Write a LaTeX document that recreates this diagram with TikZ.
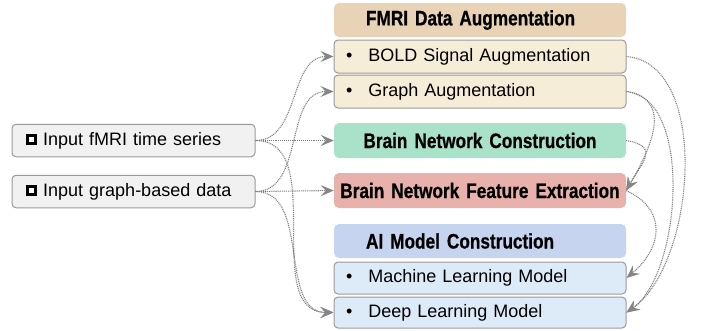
\documentclass[tikz,border=0pt]{standalone}
\usepackage{fontspec}
\setmainfont{Liberation Sans}
\newfontfamily\hdfont[FakeStretch=0.82,BoldFeatures={FakeBold=0.6}]{Liberation Sans}
\usetikzlibrary{arrows.meta}
\definecolor{bordergray}{HTML}{9A9A9A}
\definecolor{ingray}{HTML}{F1F1F1}
\definecolor{linegray}{HTML}{7E7E7E}
\definecolor{arrowgray}{HTML}{858585}
\definecolor{tanhdr}{HTML}{E9D3B6}
\definecolor{tansub}{HTML}{F5EDD8}
\definecolor{greenbox}{HTML}{A9E2C8}
\definecolor{redbox}{HTML}{E8B1AC}
\definecolor{bluehdr}{HTML}{C6D4F0}
\definecolor{bluesub}{HTML}{DDEAF8}
\newcommand\chkbox{\raisebox{2.9pt}{\setlength{\fboxsep}{0pt}\setlength{\fboxrule}{2.9pt}\fcolorbox{black}{white}{\rule{0pt}{5.4pt}\hspace{5.4pt}}}}
\newcommand\regfont{\fontsize{18pt}{20pt}\selectfont}
\newcommand\hfont{\hdfont\bfseries\fontsize{21pt}{24pt}\selectfont}
\tikzset{
  inbox/.style={draw=bordergray, fill=ingray, line width=1pt, rounded corners=4pt,
    text width=215pt, inner xsep=14pt, inner ysep=0pt, align=left, font=\regfont, minimum height=32.5pt},
  subbox/.style={draw=bordergray, line width=1pt, rounded corners=4pt,
    text width=268pt, inner xsep=12pt, inner ysep=0pt, align=left, font=\regfont},
  hdrbox/.style={rounded corners=5pt, text width=228pt, inner xsep=32pt, inner ysep=0pt,
    align=left, font=\hfont, minimum height=34pt},
  midbox/.style={rounded corners=5pt, text width=292pt, inner xsep=0pt, inner ysep=0pt,
    align=center, font=\hfont, minimum height=35pt},
  conn/.style={draw=linegray, line width=1.1pt, dash pattern=on 1pt off 0.9pt,
    -{Stealth[length=13pt,width=11pt,inset=5pt,fill=arrowgray,color=arrowgray]}}
}
\begin{document}
\begin{tikzpicture}[x=1pt,y=1pt]
\useasboundingbox (0,0) rectangle (702,-330);
% left inputs
\node[inbox] (fmri) at (133.5,-140.5) {\chkbox\hspace{6pt}Input fMRI time series};
\node[inbox] (graph) at (133.5,-191.5) {\chkbox\hspace{6pt}Input graph-based data};
% right column
\node[hdrbox, fill=tanhdr] (fhdr) at (480,-20) {FMRI Data Augmentation};
\node[subbox, fill=tansub, minimum height=33pt] (bold) at (480,-56.5) {\textbullet\hspace{16pt}BOLD Signal Augmentation};
\node[subbox, fill=tansub, minimum height=33pt] (gaug) at (480,-91.5) {\textbullet\hspace{16pt}Graph Augmentation};
\node[midbox, fill=greenbox] (bnc) at (480,-140.5) {Brain Network Construction};
\node[midbox, fill=redbox] (fe) at (480,-190.5) {Brain Network Feature Extraction};
\node[hdrbox, fill=bluehdr] (aihdr) at (480,-241) {AI Model Construction};
\node[subbox, fill=bluesub, minimum height=32pt] (ml) at (480,-278) {\textbullet\hspace{16pt}Machine Learning Model};
\node[subbox, fill=bluesub, minimum height=31pt] (dl) at (480,-312.5) {\textbullet\hspace{16pt}Deep Learning Model};
% left connectors
\draw[conn] (fmri.east) to[out=0,in=180] (bold.west);
\draw[conn] (graph.east) to[out=0,in=180] (gaug.west);
\draw[conn] (fmri.east) -- (bnc.west);
\draw[conn] (graph.east) -- (fe.west);
\draw[conn] (fmri.east) to[out=0,in=180] (dl.west);
\draw[conn] (graph.east) to[out=0,in=180] (dl.west);
% right connectors
\draw[conn] (bold.east) to[out=-5,in=35,looseness=0.85] (dl.east);
\draw[conn] (gaug.east) to[out=-5,in=35,looseness=0.78] (dl.east);
\draw[conn] (gaug.east) to[out=-10,in=60,looseness=1.25] (fe.east);
\draw[conn] (bnc.east) to[out=-10,in=60,looseness=1.74] (fe.east);
\draw[conn] (fe.east) to[out=-25,in=40,looseness=1.35] (ml.east);
\end{tikzpicture}
\end{document}
